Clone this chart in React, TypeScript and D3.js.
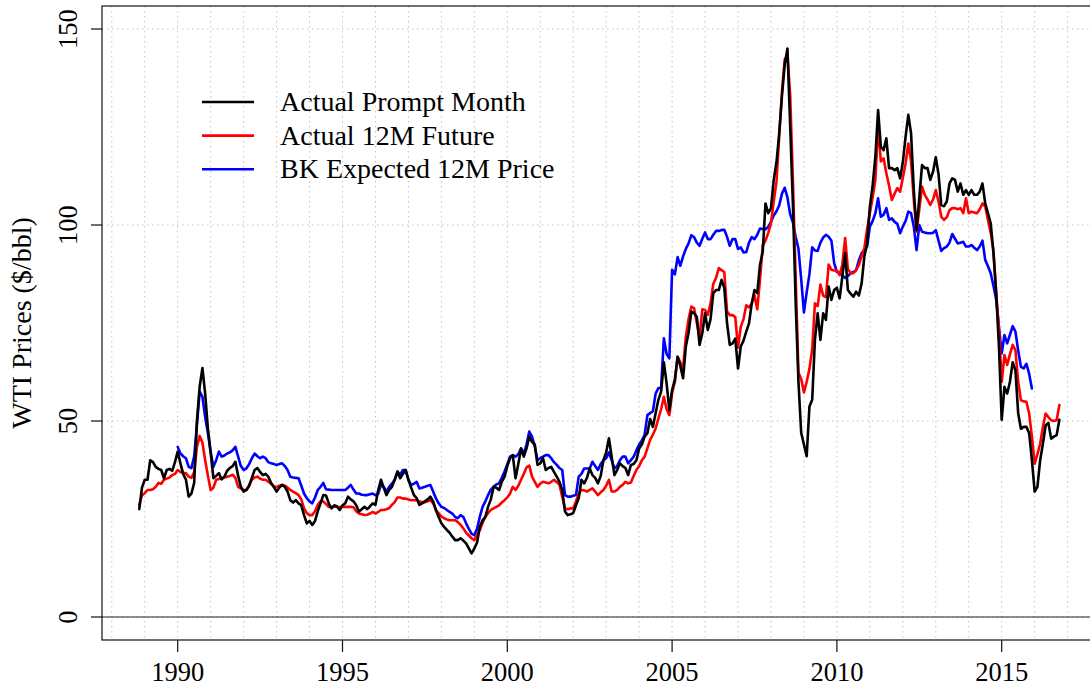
import React, { useEffect, useRef } from 'react';
import * as d3 from 'd3';

const WIDTH = 1090;
const HEIGHT = 689;

// Monthly real prices, $/bbl. Prompt month and 12M future start Nov 1988.
const promptStart = 1988 + 10 / 12;
const promptMonth = [
  27.5, 33.0,
  35.0, 35.0, 40.0, 39.5, 38.3, 37.8, 37.5, 35.4, 37.5, 37.8, 37.3, 39.5, // 1989
  42.2, 39.2, 36.5, 35.0, 30.7, 31.5, 34.2, 50.0, 58.8, 63.5, 57.0, 48.0, // 1990
  42.0, 35.4, 36.0, 36.7, 35.1, 35.8, 37.3, 38.0, 38.5, 39.6, 36.0, 33.2, // 1991
  32.0, 32.4, 33.5, 35.5, 37.5, 38.0, 37.0, 36.2, 36.5, 35.8, 34.2, 33.2, // 1992
  32.0, 33.0, 33.7, 33.2, 32.0, 29.8, 29.2, 29.8, 29.0, 28.5, 26.0, 23.9, // 1993
  24.5, 23.5, 24.5, 27.0, 29.0, 31.1, 31.0, 29.0, 27.7, 28.5, 28.2, 27.3, // 1994
  28.5, 29.0, 30.7, 30.0, 29.5, 28.5, 26.9, 27.5, 28.1, 27.5, 28.2, 29.0, // 1995
  28.6, 32.4, 35.0, 33.0, 31.1, 32.4, 33.2, 35.0, 37.1, 35.4, 36.5, 37.5, // 1996
  35.0, 33.0, 31.1, 30.3, 28.6, 29.0, 29.5, 30.0, 30.7, 29.5, 27.3, 25.5, // 1997
  23.9, 23.0, 22.2, 21.5, 20.5, 19.6, 19.6, 20.1, 19.5, 18.8, 17.5, 16.2, // 1998
  17.5, 19.0, 23.0, 24.7, 25.5, 28.1, 30.0, 33.2, 33.0, 32.4, 34.5, 35.8, // 1999
  38.5, 40.5, 41.3, 35.4, 39.0, 43.0, 40.9, 43.0, 46.0, 44.7, 44.0, 38.8, // 2000
  39.2, 40.5, 37.5, 38.0, 38.3, 37.0, 35.8, 34.5, 32.4, 26.9, 26.0, 26.2, // 2001
  26.5, 28.5, 30.3, 35.0, 34.1, 35.5, 37.9, 36.2, 35.5, 34.1, 36.0, 40.0, // 2002
  42.0, 45.6, 40.9, 36.2, 37.5, 39.2, 38.5, 38.0, 36.2, 38.8, 39.0, 40.0, // 2003
  43.0, 44.0, 46.0, 46.9, 50.5, 48.5, 52.0, 55.4, 57.5, 65.0, 59.6, 52.8, // 2004
  57.9, 60.5, 66.4, 64.0, 60.9, 69.0, 72.5, 77.9, 77.5, 76.6, 69.4, 72.4, // 2005
  77.5, 73.2, 76.0, 82.6, 83.4, 83.4, 86.0, 84.0, 75.0, 69.4, 69.8, 71.0, // 2006
  63.4, 69.0, 70.5, 72.8, 74.9, 80.0, 83.4, 82.6, 89.8, 93.2, 105.5, 103.0, // 2007
  104.3, 111.5, 116.0, 123.4, 133.0, 141.0, 145.0, 125.0, 105.0, 80.0, 60.0, 47.0, // 2008
  44.0, 41.0, 53.7, 55.4, 70.7, 77.5, 70.7, 77.5, 75.8, 84.3, 80.9, 83.4, // 2009
  84.0, 81.3, 87.0, 92.8, 83.4, 82.5, 81.7, 83.0, 82.0, 85.1, 92.0, 95.3, // 2010
  104.7, 110.0, 117.4, 129.3, 120.0, 119.1, 122.1, 114.5, 114.5, 114.0, 114.5, 111.9, // 2011
  116.0, 122.5, 128.1, 123.4, 108.9, 98.7, 107.0, 115.3, 114.5, 114.5, 111.5, 113.6, // 2012
  117.3, 113.0, 105.1, 104.8, 106.0, 110.6, 111.9, 111.5, 108.5, 110.6, 107.7, 108.9, // 2013
  107.7, 108.9, 107.7, 107.7, 108.5, 110.6, 105.5, 103.0, 100.4, 92.8, 82.6, 69.0, // 2014
  50.3, 58.7, 57.0, 60.0, 65.0, 62.9, 52.0, 48.0, 48.5, 48.5, 46.9, 40.0, // 2015
  32.0, 33.2, 40.0, 44.2, 48.9, 49.5, 45.5, 46.0, 46.4, 50.3, // 2016
];

const futureStart = 1988 + 10 / 12;
const future12M = [
  28.6, 31.0,
  31.6, 32.4, 32.4, 32.6, 33.2, 34.2, 34.0, 35.0, 35.3, 35.6, 36.2, 36.5, // 1989
  37.5, 37.0, 36.7, 36.7, 35.8, 35.5, 37.0, 43.4, 46.2, 44.5, 40.0, 36.0, // 1990
  32.4, 33.0, 35.0, 35.2, 35.4, 35.6, 35.8, 36.0, 36.3, 35.5, 33.2, 32.8, // 1991
  32.4, 32.4, 33.5, 35.0, 35.6, 35.8, 35.3, 35.0, 35.0, 34.5, 34.0, 33.2, // 1992
  33.2, 33.5, 33.7, 33.5, 33.0, 32.4, 32.0, 31.6, 31.1, 30.0, 27.7, 26.5, // 1993
  26.0, 26.0, 27.0, 28.6, 29.5, 29.5, 28.8, 28.1, 28.0, 28.2, 28.1, 28.0, // 1994
  28.1, 28.1, 28.1, 28.1, 28.0, 27.0, 26.4, 26.2, 26.0, 26.1, 26.4, 26.8, // 1995
  26.4, 26.8, 27.3, 27.3, 27.5, 27.8, 28.6, 29.3, 30.5, 30.5, 30.2, 30.2, // 1996
  30.0, 29.8, 29.8, 29.8, 29.5, 29.3, 29.3, 29.5, 29.8, 29.0, 27.3, 26.5, // 1997
  25.6, 25.2, 24.9, 24.7, 24.7, 24.7, 24.2, 23.5, 22.6, 21.5, 20.8, 20.1, // 1998
  19.6, 21.0, 22.2, 24.0, 25.6, 26.5, 27.3, 27.7, 28.1, 28.5, 29.2, 29.8, // 1999
  30.5, 31.5, 33.2, 32.4, 33.5, 35.0, 36.5, 38.2, 38.6, 35.8, 34.5, 33.2, // 2000
  34.0, 34.5, 34.3, 34.1, 34.5, 35.0, 34.4, 33.7, 30.7, 27.7, 27.5, 27.7, // 2001
  27.7, 29.5, 31.5, 32.4, 32.3, 32.0, 32.4, 32.8, 32.0, 31.1, 31.8, 32.4, // 2002
  33.5, 35.0, 32.0, 32.0, 32.4, 33.2, 33.7, 34.5, 34.1, 34.3, 36.0, 37.5, // 2003
  38.5, 40.0, 40.9, 43.0, 45.2, 46.5, 48.1, 50.6, 53.0, 56.2, 53.0, 51.5, // 2004
  57.1, 60.0, 66.4, 65.0, 63.4, 71.5, 76.0, 79.2, 78.8, 75.0, 71.5, 78.5, // 2005
  78.3, 77.1, 80.0, 85.0, 86.5, 89.0, 88.5, 88.0, 78.0, 77.0, 77.0, 76.5, // 2006
  68.7, 74.0, 76.0, 79.5, 79.0, 80.0, 82.1, 78.5, 86.0, 94.8, 96.0, 98.0, // 2007
  100.4, 106.0, 111.0, 122.7, 134.0, 142.3, 143.2, 133.0, 110.9, 86.2, 62.4, 60.7, // 2008
  57.3, 60.0, 63.3, 68.3, 80.0, 79.3, 84.8, 82.0, 81.6, 89.9, 88.6, 88.4, // 2009
  88.4, 87.2, 90.0, 96.7, 88.8, 87.7, 87.7, 88.5, 89.8, 92.0, 94.1, 99.0, // 2010
  103.0, 107.0, 111.5, 125.1, 116.2, 117.0, 113.2, 110.0, 106.4, 108.0, 109.4, 108.5, // 2011
  112.0, 115.7, 120.8, 116.2, 106.4, 98.3, 104.0, 109.8, 107.7, 106.5, 105.1, 106.5, // 2012
  108.9, 106.0, 102.1, 101.3, 102.0, 103.8, 104.3, 104.3, 104.0, 104.3, 103.0, 106.8, // 2013
  103.0, 103.4, 103.2, 103.0, 104.0, 105.5, 104.7, 101.3, 98.0, 93.6, 82.6, 73.2, // 2014
  60.0, 66.8, 64.3, 67.0, 69.4, 68.1, 60.0, 55.3, 55.0, 54.9, 51.9, 46.0, // 2015
  39.1, 41.5, 44.2, 48.5, 51.9, 51.0, 50.2, 50.0, 50.2, 54.1, // 2016
];

// BK expected price starts Jan 1990, ends Dec 2015
const bkStart = 1990;
const bkExpected = [
  43.4, 41.7, 41.0, 40.5, 38.3, 38.0, 41.0, 49.0, 57.5, 56.2, 51.0, 46.9, // 1990
  42.0, 38.3, 40.0, 42.2, 40.9, 41.2, 41.7, 42.0, 42.5, 43.4, 40.9, 38.5, // 1991
  37.5, 37.9, 39.0, 40.5, 41.7, 41.0, 40.5, 40.9, 40.5, 39.5, 39.2, 39.0, // 1992
  38.8, 39.0, 39.2, 38.5, 37.5, 35.8, 35.6, 35.5, 35.4, 33.5, 31.5, 30.3, // 1993
  29.5, 29.0, 30.5, 32.4, 33.2, 34.2, 32.6, 32.5, 32.4, 32.4, 32.4, 32.4, // 1994
  32.4, 32.4, 33.0, 33.7, 32.5, 31.5, 31.5, 31.2, 31.1, 31.1, 31.3, 31.5, // 1995
  31.1, 31.5, 33.7, 33.2, 32.0, 33.2, 34.0, 35.0, 37.1, 36.3, 37.5, 37.5, // 1996
  35.0, 33.7, 34.0, 34.5, 32.8, 33.0, 33.2, 33.5, 33.7, 32.0, 30.3, 29.0, // 1997
  28.1, 27.8, 27.3, 26.8, 26.4, 25.5, 25.2, 26.0, 25.5, 23.9, 22.5, 21.2, // 1998
  20.9, 22.5, 25.6, 28.1, 29.5, 31.1, 32.5, 33.2, 33.8, 34.1, 35.5, 37.1, // 1999
  39.0, 40.9, 41.3, 40.9, 41.5, 43.0, 41.7, 44.0, 47.3, 46.0, 43.5, 40.0, // 2000
  40.5, 40.9, 41.3, 41.3, 40.5, 39.5, 38.8, 38.0, 37.5, 31.1, 30.7, 30.7, // 2001
  30.9, 31.1, 35.8, 36.5, 37.9, 37.9, 37.9, 39.6, 38.5, 37.5, 39.0, 40.0, // 2002
  40.5, 42.0, 40.0, 37.9, 38.5, 40.0, 40.9, 40.9, 39.2, 40.0, 40.9, 42.5, // 2003
  44.0, 45.0, 46.5, 51.5, 52.0, 52.5, 57.0, 58.4, 58.4, 71.1, 67.1, 66.0, // 2004
  88.6, 87.4, 91.8, 89.6, 92.0, 93.9, 95.3, 97.4, 96.9, 95.5, 94.7, 96.5, // 2005
  98.1, 96.4, 96.4, 97.5, 98.5, 98.5, 98.7, 98.8, 97.0, 94.7, 96.4, 96.4, // 2006
  93.9, 94.3, 93.0, 93.1, 95.5, 96.9, 96.4, 97.5, 99.1, 99.0, 98.9, 99.5, // 2007
  100.8, 102.4, 103.5, 105.0, 108.0, 109.5, 107.0, 102.7, 100.6, 97.0, 94.0, 86.2, // 2008
  77.7, 82.8, 87.5, 94.3, 93.5, 93.4, 95.5, 96.8, 97.5, 97.0, 96.0, 90.3, // 2009
  88.0, 87.8, 87.1, 86.5, 87.0, 87.7, 88.0, 88.5, 91.0, 92.8, 93.6, 94.5, // 2010
  99.6, 101.0, 103.0, 106.8, 102.1, 102.6, 104.3, 101.3, 101.7, 100.8, 100.3, 97.9, // 2011
  99.6, 101.0, 103.4, 103.0, 99.6, 93.6, 100.0, 98.3, 98.1, 97.9, 97.9, 98.0, // 2012
  98.7, 96.0, 93.4, 94.1, 94.5, 95.5, 97.7, 96.5, 95.3, 95.5, 95.7, 94.5, // 2013
  94.5, 94.9, 94.2, 93.6, 94.5, 96.0, 91.1, 89.5, 87.7, 84.5, 80.9, 74.0, // 2014
  67.2, 71.9, 69.8, 72.0, 74.2, 72.8, 68.0, 63.8, 63.4, 64.6, 62.0, 58.3, // 2015
];

const xTicks = [1990, 1995, 2000, 2005, 2010, 2015];
const yTicks = [0, 50, 100, 150];
const gridYears = d3.range(1988, 2018);

const series = [
  { label: 'Actual Prompt Month', color: '#000000', start: promptStart, values: promptMonth },
  { label: 'Actual 12M Future', color: '#ff0000', start: futureStart, values: future12M },
  { label: 'BK Expected 12M Price', color: '#0000ff', start: bkStart, values: bkExpected },
];

const FONT = '"Liberation Serif", "Times New Roman", Times, serif';

const WtiChart = () => {
  const ref = useRef<SVGSVGElement | null>(null);

  useEffect(() => {
    if (!ref.current) return;
    const svg = d3.select(ref.current);
    svg.selectAll('*').remove();

    const plot = { left: 102, top: 6, right: 1120, bottom: 640 };

    const x = d3.scaleLinear().domain([1990, 2015]).range([177.7, 1001.7]);
    const y = d3.scaleLinear().domain([0, 150]).range([617, 29]);

    svg.append('rect').attr('width', WIDTH).attr('height', HEIGHT).attr('fill', '#fff');

    // dotted grid
    const grid = svg.append('g')
      .attr('stroke', '#c4c4c4')
      .attr('stroke-width', 1)
      .attr('stroke-dasharray', '1.5,3.5');
    grid.selectAll('line.gx')
      .data(gridYears)
      .enter()
      .append('line')
      .attr('x1', d => x(d)).attr('x2', d => x(d))
      .attr('y1', plot.top).attr('y2', plot.bottom);
    grid.selectAll('line.gy')
      .data(yTicks)
      .enter()
      .append('line')
      .attr('x1', plot.left).attr('x2', plot.right)
      .attr('y1', d => y(d)).attr('y2', d => y(d));

    // zero line
    svg.append('line')
      .attr('x1', plot.left).attr('x2', plot.right)
      .attr('y1', y(0)).attr('y2', y(0))
      .attr('stroke', '#222')
      .attr('stroke-width', 1);

    // series lines, black on top
    const line = d3.line<number>()
      .x((d, i, arr) => 0)
      .y(d => y(d));
    const drawOrder = [series[2], series[1], series[0]];
    drawOrder.forEach(s => {
      const gen = d3.line<number>()
        .x((d, i) => x(s.start + i / 12))
        .y(d => y(d));
      svg.append('path')
        .attr('d', gen(s.values))
        .attr('fill', 'none')
        .attr('stroke', s.color)
        .attr('stroke-width', 2.6)
        .attr('stroke-linejoin', 'round')
        .attr('stroke-linecap', 'round');
    });
    void line;

    // box
    svg.append('rect')
      .attr('x', plot.left).attr('y', plot.top)
      .attr('width', plot.right - plot.left).attr('height', plot.bottom - plot.top)
      .attr('fill', 'none')
      .attr('stroke', '#111')
      .attr('stroke-width', 1.2);

    // y axis
    const yAxis = svg.append('g');
    yAxis.selectAll('line')
      .data(yTicks)
      .enter()
      .append('line')
      .attr('x1', 91).attr('x2', plot.left)
      .attr('y1', d => y(d)).attr('y2', d => y(d))
      .attr('stroke', '#111')
      .attr('stroke-width', 1.2);
    yAxis.selectAll('text')
      .data(yTicks)
      .enter()
      .append('text')
      .attr('transform', d => `translate(77, ${y(d)}) rotate(-90)`)
      .attr('text-anchor', 'middle')
      .style('font-family', FONT)
      .style('font-size', '26.5px')
      .style('fill', '#000')
      .text(d => d);

    // x axis
    const xAxis = svg.append('g');
    xAxis.selectAll('line')
      .data(xTicks)
      .enter()
      .append('line')
      .attr('x1', d => x(d)).attr('x2', d => x(d))
      .attr('y1', plot.bottom).attr('y2', 652)
      .attr('stroke', '#111')
      .attr('stroke-width', 1.2);
    xAxis.selectAll('text')
      .data(xTicks)
      .enter()
      .append('text')
      .attr('x', d => x(d))
      .attr('y', 681)
      .attr('text-anchor', 'middle')
      .style('font-family', FONT)
      .style('font-size', '26.5px')
      .style('fill', '#000')
      .text(d => d);

    // y label
    svg.append('text')
      .attr('transform', `translate(31, ${(plot.top + plot.bottom) / 2}) rotate(-90)`)
      .attr('text-anchor', 'middle')
      .style('font-family', FONT)
      .style('font-size', '28px')
      .style('fill', '#000')
      .text('WTI Prices ($/bbl)');

    // legend
    const legend = svg.append('g').attr('transform', 'translate(202, 102)');
    const items = legend.selectAll('g')
      .data(series)
      .enter()
      .append('g')
      .attr('transform', (d, i) => `translate(0, ${i * 33.6})`);
    items.append('line')
      .attr('x1', 0).attr('x2', 52)
      .attr('y1', 0).attr('y2', 0)
      .attr('stroke', d => d.color)
      .attr('stroke-width', 2.6);
    items.append('text')
      .attr('x', 78)
      .attr('y', 0)
      .attr('dy', '0.33em')
      .style('font-family', FONT)
      .style('font-size', '28px')
      .style('fill', '#000')
      .text(d => d.label);
  }, []);

  return (
    <div style={{ position: 'absolute', left: 0, top: 0, width: WIDTH, height: HEIGHT, overflow: 'hidden' }}>
      <svg ref={ref} width={WIDTH} height={HEIGHT} style={{ display: 'block' }} />
    </div>
  );
};

export default function App() {
  return <WtiChart />;
}
